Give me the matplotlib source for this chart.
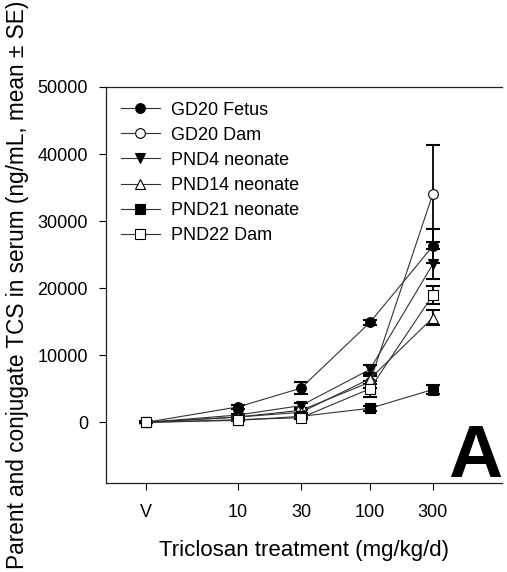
import matplotlib
matplotlib.use("Agg")
import matplotlib.pyplot as plt
import numpy as np

plt.rcParams['font.family'] = ['Liberation Sans', 'DejaVu Sans']

doses = [2, 10, 30, 100, 300]
dose_labels = ["V", "10", "30", "100", "300"]

gd20_fetus = [0, 2300, 5100, 14900, 26300]
gd20_fetus_se = [150, 300, 900, 400, 2600]
gd20_dam = [0, 800, 1800, 6000, 34100]
gd20_dam_se = [100, 200, 400, 900, 7200]
pnd4 = [0, 1100, 2500, 7900, 23600]
pnd4_se = [100, 200, 400, 700, 2200]
pnd14 = [0, 800, 1500, 6500, 15600]
pnd14_se = [100, 150, 300, 800, 1100]
pnd21 = [0, 300, 900, 2100, 4900]
pnd21_se = [100, 100, 200, 400, 600]
pnd22_dam = [0, 400, 700, 5000, 19000]
pnd22_dam_se = [100, 100, 200, 1200, 1400]

series = [
    ("GD20 Fetus", gd20_fetus, gd20_fetus_se, 'o', 'black'),
    ("GD20 Dam", gd20_dam, gd20_dam_se, 'o', 'white'),
    ("PND4 neonate", pnd4, pnd4_se, 'v', 'black'),
    ("PND14 neonate", pnd14, pnd14_se, '^', 'white'),
    ("PND21 neonate", pnd21, pnd21_se, 's', 'black'),
    ("PND22 Dam", pnd22_dam, pnd22_dam_se, 's', 'white'),
]

fig = plt.figure(figsize=(5.07, 5.72), dpi=100)
ax = fig.add_axes([0.209, 0.156, 0.781, 0.692])

for name, vals, se, mk, fc in series:
    ax.errorbar(doses, vals, yerr=se, fmt='none', ecolor='black', elinewidth=1.3,
                capsize=5, capthick=1.5, zorder=2)
    ax.plot(doses, vals, color='#333333', lw=0.8, marker=mk, markersize=7,
            markerfacecolor=fc, markeredgecolor='black', markeredgewidth=0.8,
            label=name, zorder=3)

ax.set_xscale('log')
ax.set_xlim(1, 1000)
ax.set_ylim(-9000, 50000)
ax.set_xticks(doses)
ax.set_xticklabels(dose_labels)
ax.minorticks_off()
ax.set_yticks([0, 10000, 20000, 30000, 40000, 50000])
ax.tick_params(axis='both', direction='out', labelsize=13, length=5, width=0.8, pad=8)
ax.tick_params(axis='x', pad=10)

ax.spines['right'].set_visible(False)
for s in ['left', 'top', 'bottom']:
    ax.spines[s].set_linewidth(0.9)
    ax.spines[s].set_color('#222222')

ax.set_xlabel("Triclosan treatment (mg/kg/d)", fontsize=16, labelpad=14)
ax.set_ylabel("Parent and conjugate TCS in serum (ng/mL, mean \u00b1 SE)", fontsize=16.3, labelpad=6)

leg = ax.legend(loc='upper left', bbox_to_anchor=(0.005, 0.995), frameon=False,
                fontsize=13, handlelength=2.2, labelspacing=0.45, handletextpad=0.6,
                borderaxespad=0.3)

ax.text(1.0, 0.015, "A", transform=ax.transAxes, ha='right', va='baseline',
        fontsize=54, fontweight='bold')

fig.savefig("out.png", dpi=100)
